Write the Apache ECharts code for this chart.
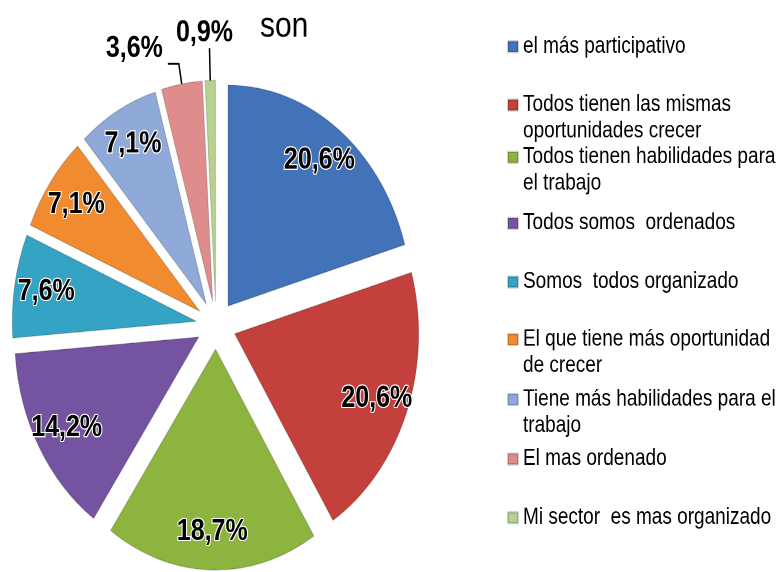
<!DOCTYPE html>
<html>
<head>
<meta charset="utf-8">
<script src="https://cdn.jsdelivr.net/npm/echarts@6/dist/echarts.min.js"></script>
<style>
  html, body { margin: 0; padding: 0; background: #fff; }
  body { width: 776px; height: 572px; }
  /* el grafico original esta estirado en vertical (pie eliptico, letra estrecha) */
  #main { width: 776px; height: 477px; transform: scaleY(1.2); transform-origin: 0 0; }
</style>
</head>
<body>
<div id="main"></div>
<script>
// categorias y valores (%)
var categories = [
  'el más participativo',
  'Todos tienen las mismas oportunidades crecer',
  'Todos tienen habilidades para el trabajo',
  'Todos somos  ordenados',
  'Somos  todos organizado',
  'El que tiene más oportunidad de crecer',
  'Tiene más habilidades para el trabajo',
  'El mas ordenado',
  'Mi sector  es mas organizado'
];
var values = [20.6, 20.6, 18.7, 14.2, 7.6, 7.1, 7.1, 3.6, 0.9];
// texto de la leyenda, cortado en lineas como en el original
var legendLines = [
  ['el más participativo'],
  ['Todos tienen las mismas', 'oportunidades crecer'],
  ['Todos tienen habilidades para', 'el trabajo'],
  ['Todos somos  ordenados'],
  ['Somos  todos organizado'],
  ['El que tiene más oportunidad', 'de crecer'],
  ['Tiene más habilidades para el', 'trabajo'],
  ['El mas ordenado'],
  ['Mi sector  es mas organizado']
];
var colors = ['#4272b8', '#c4403c', '#8db43f', '#7453a1', '#35a4c4',
              '#f18b2f', '#8faad9', '#de8d8c', '#b6d28e'];

// centro vertical de cada entrada de la leyenda (coordenadas sin estirar)
var legendCenters = [39, 87.5, 131, 186, 235, 283, 333, 382.5, 431.5];
var LH = 21.7;

var myChart = echarts.init(document.getElementById('main'), null, { devicePixelRatio: 2 });

function fmt(v) {
  return v.toFixed(1).replace('.', ',') + '%';
}

var legends = categories.map(function (name, i) {
  var lines = legendLines[i];
  var h = lines.length > 1 ? LH * 3 : LH;
  return {
    orient: 'vertical',
    left: 507,
    top: legendCenters[i] - h / 2,
    padding: 0,
    itemWidth: 10,
    itemHeight: 9,
    icon: 'rect',
    data: [name],
    selectedMode: false,
    formatter: function () {
      return lines.length > 1 ? ' \n' + lines.join('\n') : lines[0];
    },
    textStyle: {
      fontFamily: 'Liberation Sans, sans-serif',
      fontSize: 19,
      lineHeight: LH,
      color: '#000'
    }
  };
});

var pieCenter = [216, 271];
var R = 184;

myChart.setOption({
  animation: false,
  title: {
    text: 'son',
    left: 260,
    top: 7,
    padding: 0,
    textStyle: {
      fontFamily: 'Liberation Sans, sans-serif',
      fontSize: 30,
      fontWeight: 'normal',
      color: '#000'
    }
  },
  legend: legends,
  series: [{
    type: 'pie',
    center: pieCenter,
    radius: [0, R],
    startAngle: 90,
    clockwise: true,
    selectedMode: 'multiple',
    selectedOffset: 20,
    silent: true,
    label: { show: false },
    labelLine: { show: false },
    itemStyle: { borderColor: 'rgba(0,0,0,0.18)', borderWidth: 1 },
    data: categories.map(function (name, i) {
      return { name: name, value: values[i], selected: true, itemStyle: { color: colors[i] } };
    })
  }, {
    // serie transparente solo para colocar las etiquetas cerca del borde
    type: 'pie',
    center: pieCenter,
    radius: [R * 0.62, R],
    startAngle: 90,
    clockwise: true,
    selectedMode: 'multiple',
    selectedOffset: 20,
    silent: true,
    avoidLabelOverlap: false,
    itemStyle: { color: 'rgba(0,0,0,0)' },
    label: {
      show: true,
      position: 'inside',
      formatter: function (p) { return fmt(p.value); },
      fontFamily: 'Liberation Sans, sans-serif',
      fontWeight: 'bold',
      fontSize: 25,
      color: '#000',
      textBorderColor: '#fff',
      textBorderWidth: 2
    },
    labelLayout: function (params) {
      var pts = params.labelLinePoints;
      if (!pts) return {};
      var end = pts[pts.length - 1];
      // 0,9% encima de su linea
      if (params.dataIndex === 8) {
        return { x: end[0] + 2, y: end[1] - 7, align: 'center', verticalAlign: 'bottom', labelLinePoints: pts };
      }
      // 3,6% a la izquierda del codo, un poco por encima
      if (params.dataIndex === 7) {
        return { x: end[0] - 4, y: end[1] + 1, align: 'right', verticalAlign: 'bottom', labelLinePoints: pts };
      }
      return {};
    },
    data: categories.map(function (name, i) {
      var d = { name: name, value: values[i], selected: true };
      if (i === 7) {
        d.label = { position: 'outside', textBorderWidth: 0 };
        d.labelLine = { show: true, length: 17, length2: 11, lineStyle: { color: '#000', width: 1.5 } };
      }
      if (i === 8) {
        d.label = { position: 'outside', textBorderWidth: 0 };
        d.labelLine = { show: true, length: 27, length2: 0, lineStyle: { color: '#000', width: 1.5 } };
      }
      return d;
    })
  }]
});
</script>
</body>
</html>
